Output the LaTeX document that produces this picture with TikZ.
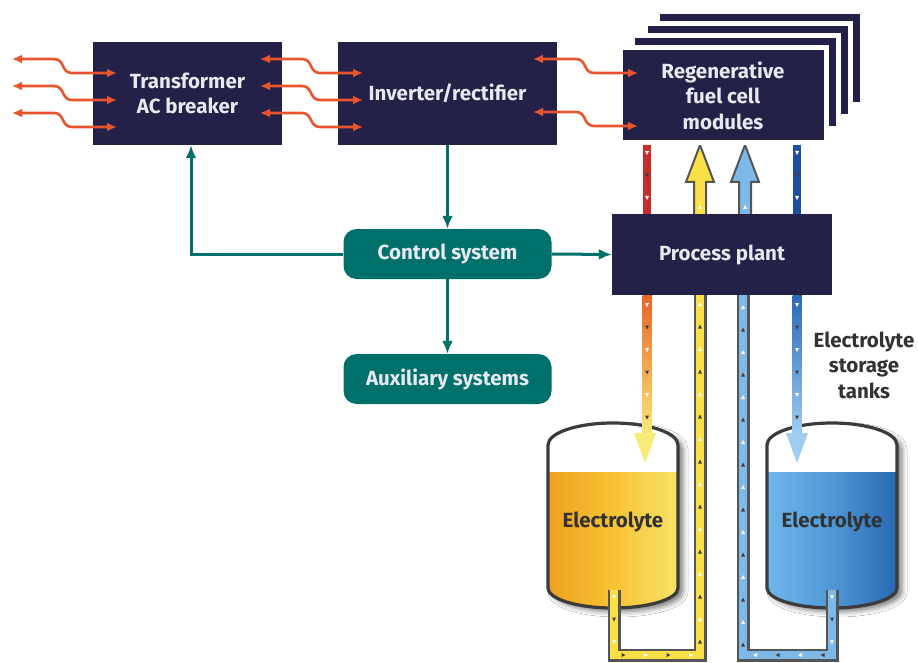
\documentclass[tikz,border=0pt]{standalone}
\usepackage{fontspec}
\setmainfont{Fira Sans}
\usetikzlibrary{arrows.meta,decorations.markings,shadows.blur,calc}

\definecolor{navy}{RGB}{35,33,72}
\definecolor{ctlteal}{RGB}{0,112,106}
\definecolor{boxtext}{RGB}{232,232,240}
\definecolor{wirered}{RGB}{232,84,45}
\definecolor{pgrey}{RGB}{85,85,85}
\definecolor{pyel}{RGB}{250,224,70}
\definecolor{pyelpale}{RGB}{250,234,120}
\definecolor{porange}{RGB}{232,100,40}
\definecolor{plblue}{RGB}{125,185,232}
\definecolor{plbluepale}{RGB}{160,206,242}
\definecolor{pdblue}{RGB}{30,78,160}
\definecolor{pblue}{RGB}{42,104,184}
\definecolor{pred}{RGB}{200,44,40}
\definecolor{orL}{RGB}{237,160,30}
\definecolor{orM}{RGB}{247,194,52}
\definecolor{orR}{RGB}{248,228,106}
\definecolor{blL}{RGB}{112,184,234}
\definecolor{blM}{RGB}{79,152,214}
\definecolor{blR}{RGB}{38,104,178}
\definecolor{inktext}{RGB}{50,50,50}

\tikzset{
  boxfont/.style={font=\bfseries\fontsize{20.5}{25.5}\selectfont},
  box/.style={boxfont, fill=navy, text=boxtext, align=center, inner sep=0pt},
  ctlbox/.style={boxfont, fill=ctlteal, text=boxtext, rounded corners=13pt,
    align=center, inner sep=0pt, minimum width=208pt, minimum height=50pt},
  layer/.style={fill=navy, draw=white, line width=5pt},
  wire/.style={draw=wirered, line width=2.6pt,
    arrows={Latex[length=10pt,width=9pt]-Latex[length=10pt,width=9pt]}},
  ctl/.style={draw=ctlteal, line width=3pt, arrows={-Latex[length=13pt,width=11pt]}},
  flow/.style={
    postaction={decorate,decoration={markings,
      mark=between positions 7pt and -4pt step 45pt with
        {\fill[white] (-2,-2) -- (2,0) -- (-2,2) -- cycle;}}},
    postaction={decorate,decoration={markings,
      mark=between positions 29.5pt and -4pt step 45pt with
        {\fill[black!75] (-2,-2) -- (2,0) -- (-2,2) -- cycle;}}}},
  duct/.style={draw=#1, line width=8pt, line join=miter,
    preaction={draw=pgrey, line width=13pt, line join=miter}},
  tankoutline/.style={insert path={
    ({#1-65},588) -- ({#1-65},445)
    .. controls ({#1-65},432.85) and ({#1-35.9},423) .. (#1,423)
    .. controls ({#1+35.9},423) and ({#1+65},432.85) .. ({#1+65},445)
    -- ({#1+65},588)
    .. controls ({#1+65},599) and ({#1+35.9},608) .. (#1,608)
    .. controls ({#1-35.9},608) and ({#1-65},599) .. ({#1-65},588) -- cycle}},
  tanklabel/.style={boxfont, text=inktext},
}

\begin{document}
\begin{tikzpicture}[x=1pt,y=-1pt]
\useasboundingbox[fill=white] (0,0) rectangle (918,663);

% ---- storage tanks ----
\foreach \cx/\cl/\cm/\cr/\nm in {613/orL/orM/orR/tankL, 832/blL/blM/blR/tankR}{
  \path[blur shadow={shadow xshift=5pt,shadow yshift=-4pt,shadow blur radius=5pt,shadow opacity=50},
        fill=white, tankoutline=\cx];
  \begin{scope}
    \clip[tankoutline=\cx];
    \fill[left color=\cl, right color=\cr, middle color=\cm] ({\cx-67},472) rectangle ({\cx+67},612);
  \end{scope}
  \draw[pgrey!70!black, line width=3.2pt, tankoutline=\cx];
  \node[tanklabel] (\nm) at (\cx,522) {Electrolyte};
}

% ---- pipes between modules and process plant ----
\fill[pred] (643,143) rectangle (651,214);
\path[flow] (647,146) -- (647,214);
\fill[pdblue] (793,143) rectangle (801,214);
\path[flow] (797,146) -- (797,214);
\filldraw[fill=pyel, draw=pgrey, line width=2pt, line join=miter]
  (694,216) -- (694,182) -- (686,182) -- (700,145) -- (714,182) -- (706,182) -- (706,216);
\path[flow] (700,214) -- (700,186);
\filldraw[fill=plblue, draw=pgrey, line width=2pt, line join=miter]
  (739,216) -- (739,182) -- (731,182) -- (745,145) -- (759,182) -- (751,182) -- (751,216);
\path[flow] (745,214) -- (745,186);

% ---- pipes between process plant and tanks ----
\fill[top color=porange, bottom color=pyelpale] (642.5,295) rectangle (651.5,436);
\path[flow] (647,298) -- (647,430);
\fill[pyelpale] (634,433) -- (656,433) -- (645,463) -- cycle;
\fill[top color=pblue, bottom color=plbluepale] (792.5,295) rectangle (801.5,436);
\path[flow] (797,298) -- (797,430);
\fill[plbluepale] (786,433) -- (808,433) -- (797,463) -- cycle;

\draw[duct=pyel, flow] (614,590) -- (614,655) -- (700,655) -- (700,293);
\draw[duct=plblue, flow] (832,590) -- (832,655) -- (743,655) -- (743,293);

% ---- fuel cell module stack ----
\draw[layer] (657,12) rectangle (862,105);
\draw[layer] (645,24) rectangle (850,117);
\draw[layer] (632,36) rectangle (838,129);
\node[box, draw=white, line width=5pt, minimum width=206pt, minimum height=95pt]
  (mod) at (723,95.5) {Regenerative\\fuel cell\\modules};

% ---- main blocks ----
\node[box, minimum width=189pt, minimum height=103pt] (xfmr) at (187.5,93.5) {Transformer\\AC breaker};
\node[box, minimum width=219pt, minimum height=103pt] (inv) at (447.5,93.5) {Inverter/rectifier};
\node[box, minimum width=220pt, minimum height=81pt] (plant) at (722,254.5) {Process plant};
\node[ctlbox] (ctrl) at (447.5,254) {Control system};
\node[ctlbox] (aux) at (447.5,379) {Auxiliary systems};

% ---- power connections ----
\foreach \y in {59,86,113}{
  \draw[wire] (12,\y) -- (54,\y) .. controls (65,\y) and (61,{\y+14}) .. (72,{\y+14}) -- (117,{\y+14});
  \draw[wire] (260,\y) -- (302,\y) .. controls (313,\y) and (309,{\y+14}) .. (320,{\y+14}) -- (363,{\y+14});
}
\foreach \y in {59,112}{
  \draw[wire] (533,\y) -- (576,\y) .. controls (587,\y) and (583,{\y+14}) .. (594,{\y+14}) -- (638,{\y+14});
}

% ---- control connections ----
\draw[ctl] (inv.south) -- (ctrl.north);
\draw[ctl] (ctrl.west) -| ($(xfmr.south)+(3.5,0)$);
\draw[ctl] (ctrl.east) -- (plant.west);
\draw[ctl] (ctrl.south) -- (aux.north);

% ---- caption ----
\node[tanklabel, align=center] (caption) at (864,365) {Electrolyte\\storage\\tanks};
\end{tikzpicture}
\end{document}
